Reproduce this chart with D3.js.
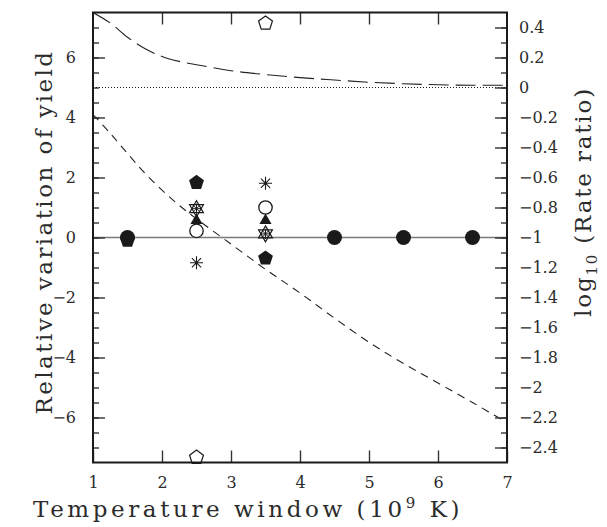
<!DOCTYPE html>
<html><head><meta charset="utf-8">
<script src="https://cdn.jsdelivr.net/npm/d3@7"></script>
<style>body{margin:0;background:#fff} svg{display:block}</style>
</head><body><svg id="c" width="607" height="527"></svg>
<script>
// ---- data ----
const curveX = [1, 1.25, 1.5, 1.75, 2, 2.25, 2.5, 3, 3.5, 4, 4.5, 5, 5.5, 6, 6.5, 7];
// right-axis units: log10(rate ratio)
const longDash = [0.50, 0.43, 0.335, 0.26, 0.207, 0.174, 0.152, 0.112, 0.086, 0.066, 0.05, 0.035, 0.025, 0.018, 0.015, 0.015];
const shortDash = [-0.18, -0.306, -0.44, -0.57, -0.684, -0.786, -0.876, -1.044, -1.212, -1.37, -1.538, -1.698, -1.84, -1.97, -2.10, -2.234];
const refLevel = [0, 0];          // dotted line, right axis
const zeroLevel = [0, 0];         // solid grey line, left axis
const windows = [1.5, 2.5, 3.5, 4.5, 5.5, 6.5];
const filledCircle   = [0, null, null, 0, 0, 0];
const filledPentagon = [-0.1, 1.83, -0.69, null, null, null];
const openCircle     = [null, 0.22, 1.0, null, null, null];
const filledTriangle = [null, 0.53, 0.53, null, null, null];
const openTriUp      = [null, 0.96, 0.12, null, null, null];
const openTriDown    = [null, 0.96, 0.12, null, null, null];
const smallStar      = [null, 0.96, 0.12, null, null, null];
const asterisk       = [null, -0.84, 1.81, null, null, null];
const openPentagon   = [null, -7.33, 7.14, null, null, null];
const xTicks = [1, 2, 3, 4, 5, 6, 7];
const yLeftTicks = [-6, -4, -2, 0, 2, 4, 6];
const yRightTicks = [-2.4, -2.2, -2, -1.8, -1.6, -1.4, -1.2, -1, -0.8, -0.6, -0.4, -0.2, 0, 0.2, 0.4];

// ---- layout ----
const L = 93, R = 507, T = 12.5, B = 462.5;
const svg = d3.select("#c");
const x = d3.scaleLinear([1, 7], [L, R]);
const yL = d3.scaleLinear([-7.5, 7.5], [B, T]);
const yR = d3.scaleLinear([-2.5, 0.5], [B, T]);
const fmt = d => { const s = String(+d.toFixed(1)); return s.replace("-", "\u2212"); };
const tickFont = "DejaVu Serif";
const ink = "#1a1a1a";
const textInk = "#2b2b2b";

svg.append("clipPath").attr("id", "clip").append("rect")
  .attr("x", L).attr("y", T).attr("width", R - L).attr("height", B - T);

const plot = svg.append("g").attr("clip-path", "url(#clip)");

// zero line
plot.append("line").attr("x1", x(1)).attr("x2", x(7))
  .attr("y1", yL(zeroLevel[0])).attr("y2", yL(zeroLevel[1]))
  .attr("stroke", "#7a7a7a").attr("stroke-width", 1.6);
// dotted reference
plot.append("line").attr("x1", x(1)).attr("x2", x(7))
  .attr("y1", yR(refLevel[0])).attr("y2", yR(refLevel[1]))
  .attr("stroke", ink).attr("stroke-width", 1).attr("stroke-dasharray", "1,2");

const line = d3.line().x((d, i) => x(curveX[i])).y(d => yR(d)).curve(d3.curveCatmullRom.alpha(0.5));
plot.append("path").attr("d", line(longDash)).attr("fill", "none")
  .attr("stroke", "#222").attr("stroke-width", 1.1).attr("stroke-dasharray", "20,7");
plot.append("path").attr("d", line(shortDash)).attr("fill", "none")
  .attr("stroke", "#222").attr("stroke-width", 1.1).attr("stroke-dasharray", "8,6");

// ---- markers ----
function polyPath(n, r, rot) {
  const pts = d3.range(n).map(k => {
    const a = (rot + 360 * k / n) * Math.PI / 180;
    return [r * Math.cos(a), r * Math.sin(a)];
  });
  return "M" + pts.map(p => p.join(",")).join("L") + "Z";
}
function starPath(r, arms) {
  let p = "";
  for (let k = 0; k < arms; k++) {
    const a = Math.PI * k / arms;
    p += `M${-r * Math.cos(a)},${-r * Math.sin(a)}L${r * Math.cos(a)},${r * Math.sin(a)}`;
  }
  return p;
}
const styles = [
  {data: filledCircle,   d: () => d3.symbol(d3.symbolCircle, Math.PI * 7.5 * 7.5)(), fill: ink, stroke: "none"},
  {data: filledPentagon, d: () => polyPath(5, 7.8, -90), fill: ink, stroke: "none"},
  {data: openCircle,     d: () => d3.symbol(d3.symbolCircle, Math.PI * 6.7 * 6.7)(), fill: "#fff", stroke: ink, sw: 1.3},
  {data: filledTriangle, d: () => polyPath(3, 7, -90), fill: ink, stroke: "none", dy: -1},
  {data: openTriUp,      d: () => polyPath(3, 8, -90), fill: "none", stroke: ink, sw: 1.2},
  {data: openTriDown,    d: () => polyPath(3, 8, 90), fill: "none", stroke: ink, sw: 1.2},
  {data: smallStar,      d: () => starPath(5, 4), fill: "none", stroke: ink, sw: 1},
  {data: asterisk,       d: () => starPath(6.5, 4), fill: "none", stroke: ink, sw: 1.1},
  {data: openPentagon,   d: () => polyPath(5, 7.3, -90), fill: "#fff", stroke: ink, sw: 1.2},
];
const mk = svg.append("g");
styles.forEach(s => {
  windows.forEach((w, i) => {
    const v = s.data[i];
    if (v === null) return;
    mk.append("path").attr("d", s.d())
      .attr("transform", `translate(${x(w)},${yL(v) + (s.dy || 0)})`)
      .attr("fill", s.fill).attr("stroke", s.stroke).attr("stroke-width", s.sw || 1);
  });
});

// ---- axes ----
function styleAxis(g) {
  g.select(".domain").remove();
  g.selectAll("line").attr("stroke", "#333").attr("stroke-width", 1.4);
  g.selectAll("text").attr("font-family", tickFont).attr("font-size", 16).attr("fill", textInk);
}
svg.append("g").attr("transform", `translate(0,${B})`)
  .call(d3.axisBottom(x).tickValues(xTicks).tickSize(-12).tickPadding(14).tickFormat(fmt)).call(styleAxis);
svg.append("g").attr("transform", `translate(0,${T})`)
  .call(d3.axisTop(x).tickValues(xTicks.slice(1, -1)).tickSize(-12).tickFormat("")).call(styleAxis);
svg.append("g").attr("transform", `translate(${L},0)`)
  .call(d3.axisLeft(yL).tickValues(d3.range(-7, 7.01, 0.5)).tickSize(-6).tickFormat("")).call(styleAxis);
svg.append("g").attr("transform", `translate(${L},0)`)
  .call(d3.axisLeft(yL).tickValues(yLeftTicks).tickSize(-12).tickPadding(17).tickFormat(fmt)).call(styleAxis);
svg.append("g").attr("transform", `translate(${R},0)`)
  .call(d3.axisRight(yR).tickValues(d3.range(-24, 5).map(k => k / 10)).tickSize(-6).tickFormat("")).call(styleAxis);
svg.append("g").attr("transform", `translate(${R},0)`)
  .call(d3.axisRight(yR).tickValues(yRightTicks).tickSize(-12).tickPadding(12).tickFormat(fmt)).call(styleAxis);

// frame
svg.append("rect").attr("x", L).attr("y", T).attr("width", R - L).attr("height", B - T)
  .attr("fill", "none").attr("stroke", ink).attr("stroke-width", 2);

// ---- titles ----
function fitSpacing(t, target) {
  const n = t.text().length;
  const len = t.node().getComputedTextLength();
  t.attr("letter-spacing", ((target - len) / n).toFixed(2));
}
const xt = svg.append("text").attr("x", 33).attr("y", 517)
  .attr("font-family", tickFont).attr("font-size", 23).attr("fill", textInk);
xt.append("tspan").text("Temperature window (10");
xt.append("tspan").text("9").attr("font-size", 15).attr("dy", -9);
xt.append("tspan").text(" K)").attr("dy", 9);
fitSpacing(xt, 430);

const yt = svg.append("text").attr("transform", "translate(52,232) rotate(-90)")
  .attr("text-anchor", "middle").attr("font-family", tickFont).attr("font-size", 23).attr("fill", textInk)
  .text("Relative variation of yield");
fitSpacing(yt, 365);

const rt = svg.append("text").attr("transform", "translate(591,202) rotate(-90)")
  .attr("text-anchor", "middle").attr("font-family", tickFont).attr("font-size", 23).attr("fill", textInk);
rt.append("tspan").text("log");
rt.append("tspan").text("10").attr("font-size", 15).attr("dy", 6);
rt.append("tspan").text(" (Rate ratio)").attr("dy", -6);
fitSpacing(rt, 230);
</script></body></html>
